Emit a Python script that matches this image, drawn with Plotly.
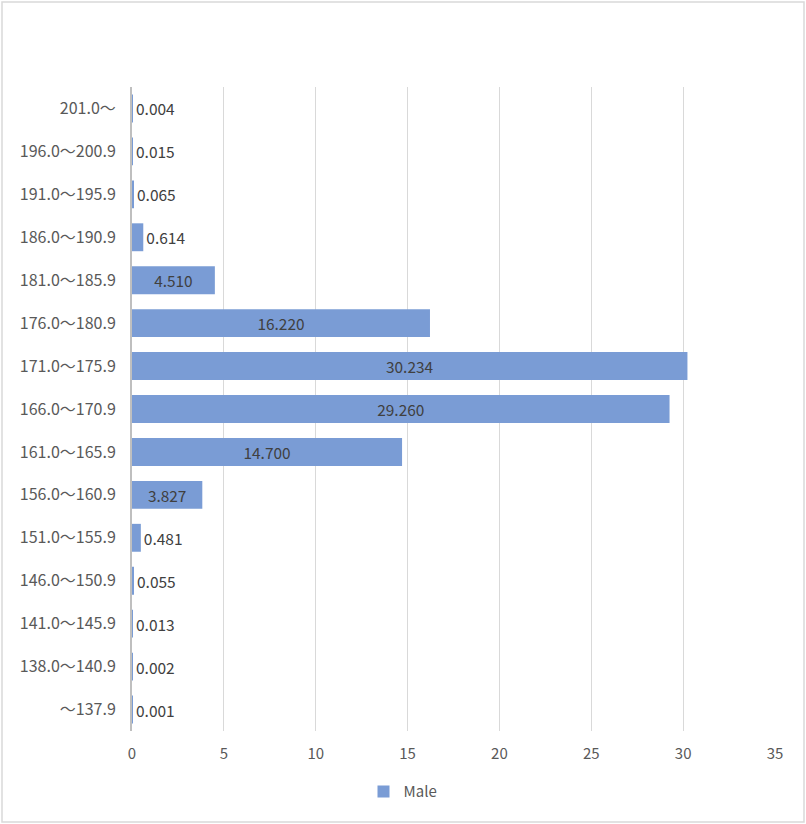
import plotly.graph_objects as go

# height classes (cm), listed bottom to top
categories = ["～137.9", "138.0～140.9", "141.0～145.9", "146.0～150.9",
              "151.0～155.9", "156.0～160.9", "161.0～165.9", "166.0～170.9",
              "171.0～175.9", "176.0～180.9", "181.0～185.9", "186.0～190.9",
              "191.0～195.9", "196.0～200.9", "201.0～"]
male = [0.001, 0.002, 0.013, 0.055, 0.481, 3.827, 14.700, 29.260,
        30.234, 16.220, 4.510, 0.614, 0.065, 0.015, 0.004]
x_ticks = [0, 5, 10, 15, 20, 25, 30, 35]

W, H = 806, 824
ML, MR, MT, MB = 132, 31, 87, 93
pw, ph = W - ML - MR, H - MT - MB

font = "Noto Sans CJK JP, Noto Sans, sans-serif"

fig = go.Figure()
fig.add_trace(go.Bar(
    y=categories, x=male, orientation="h", name="Male",
    marker=dict(color="#7A9CD5", line=dict(width=0)),
    texttemplate="%{x:.3f}", textposition="auto",
    insidetextanchor="middle",
    insidetextfont=dict(color="#404040", size=15.5, family=font),
    outsidetextfont=dict(color="#404040", size=15.5, family=font),
    cliponaxis=False,
))

# light frame round the whole chart
fig.add_shape(type="rect", xref="paper", yref="paper",
              x0=(2 - ML) / pw, x1=(804 - ML) / pw,
              y0=((H - MB) - 822) / ph, y1=((H - MB) - 2) / ph,
              line=dict(color="#D9D9D9", width=1.5), layer="below")

fig.update_layout(
    width=W, height=H,
    margin=dict(l=ML, r=MR, t=MT, b=MB),
    paper_bgcolor="white", plot_bgcolor="white",
    font=dict(family=font, size=16, color="#595959"),
    bargap=0.35,
    showlegend=True,
    legend=dict(orientation="h", xref="container", yref="container",
                x=0.5, xanchor="center", y=0.039, yanchor="middle",
                font=dict(size=15, color="#595959")),
    xaxis=dict(range=[0, 35], tickvals=x_ticks, showgrid=True,
               gridcolor="#D9D9D9", gridwidth=1, zeroline=False,
               showline=False, ticks="", ticklabelstandoff=12,
               tickfont=dict(size=15)),
    yaxis=dict(showgrid=False, showline=True, linecolor="#BFBFBF",
               linewidth=2, ticks="", ticklabelstandoff=11),
)

fig.write_html("out.html", config={"displayModeBar": False},
               post_script="document.body.style.margin='0';")
